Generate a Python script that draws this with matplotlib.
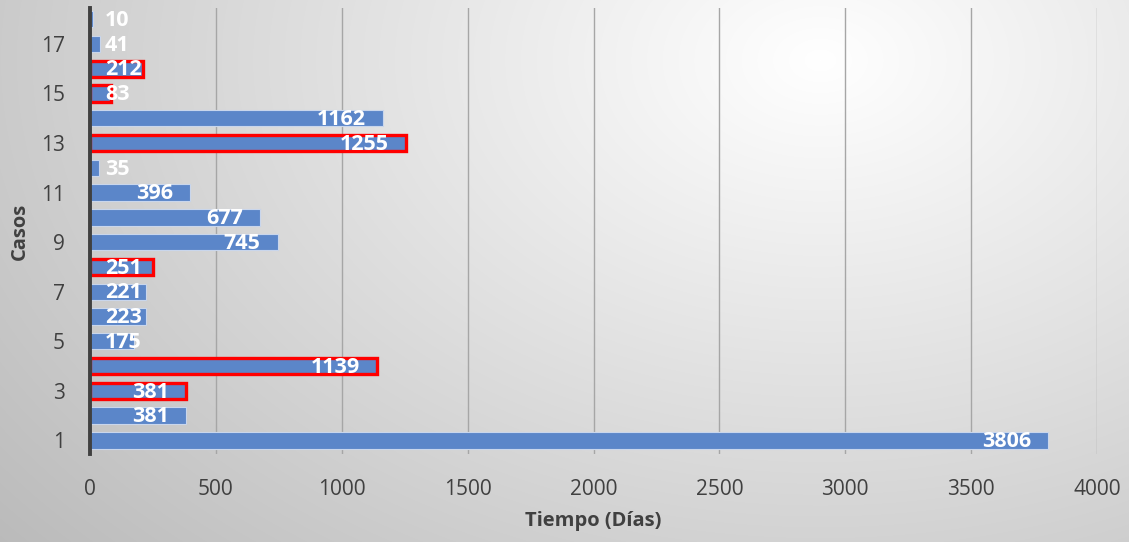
import numpy as np
import matplotlib
matplotlib.use("Agg")
import matplotlib.pyplot as plt

# data
casos = list(range(1, 19))
dias = [3806, 381, 381, 1139, 175, 223, 221, 251, 745, 677, 396, 35, 1255, 1162, 83, 212, 41, 10]
resaltados = [3, 4, 8, 13, 15, 16]
yticks = [1, 3, 5, 7, 9, 11, 13, 15, 17]
xticks = [0, 500, 1000, 1500, 2000, 2500, 3000, 3500, 4000]

plt.rcParams['font.family'] = ['Open Sans', 'DejaVu Sans']

W, H = 1129, 542
fig = plt.figure(figsize=(W / 100, H / 100), dpi=100)

# radial gradient background
bg = fig.add_axes([0, 0, 1, 1], zorder=0)
yy, xx = np.mgrid[0:H, 0:W]
r = np.sqrt(((xx - 820) / 900.0) ** 2 + ((yy - 60) / 620.0) ** 2)
shade = 1.0 - 0.28 * np.clip(r, 0, 1.25) / 1.25
bg.imshow(np.dstack([shade, shade, shade]), aspect='auto', extent=[0, W, H, 0])
bg.axis('off')

ax = fig.add_axes([90 / W, 1 - 454 / H, 1007 / W, 446 / H], zorder=1)
ax.patch.set_alpha(0)

bar_color = '#5b86c9'
for c, v in zip(casos, dias):
    if c in resaltados:
        ax.barh(c, v, height=0.66, color=bar_color, edgecolor='#ff0000',
                linewidth=2.4, zorder=3)
    else:
        ax.barh(c, v, height=0.66, color=bar_color, edgecolor='#c9d6ec',
                linewidth=0.8, zorder=3)

# data labels (inside end, clamped near the axis for short bars)
px = 4000 / 1007.0
for c, v in zip(casos, dias):
    txt = str(v)
    right = v - 17 * px
    width = len(txt) * 12 * px
    if right - width < 60:
        ax.text(60, c - 0.05, txt, ha='left', va='center', color='white',
                fontsize=15.5, fontweight='bold', zorder=5)
    else:
        ax.text(right, c - 0.05, txt, ha='right', va='center', color='white',
                fontsize=15.5, fontweight='bold', zorder=5)

ax.set_xlim(0, 4000)
ax.set_ylim(0.45, 18.45)
ax.set_xticks(xticks)
ax.set_yticks(yticks)
ax.tick_params(length=0, labelsize=15, labelcolor='#404040')
ax.tick_params(axis='x', pad=18)
ax.tick_params(axis='y', pad=18)
ax.grid(axis='x', color='#a6a6a6', linewidth=1.0, zorder=1)
ax.set_axisbelow(True)
for s in ['top', 'right', 'bottom']:
    ax.spines[s].set_visible(False)
ax.spines['left'].set_color('#404040')
ax.spines['left'].set_linewidth(2.8)
ax.spines['left'].set_zorder(6)

ax.set_xlabel('Tiempo (Días)', fontsize=14.5, fontweight='bold', color='#404040', labelpad=8)
ax.set_ylabel('Casos', fontsize=14.5, fontweight='bold', color='#404040', labelpad=8)

fig.savefig('out.png', dpi=100)
